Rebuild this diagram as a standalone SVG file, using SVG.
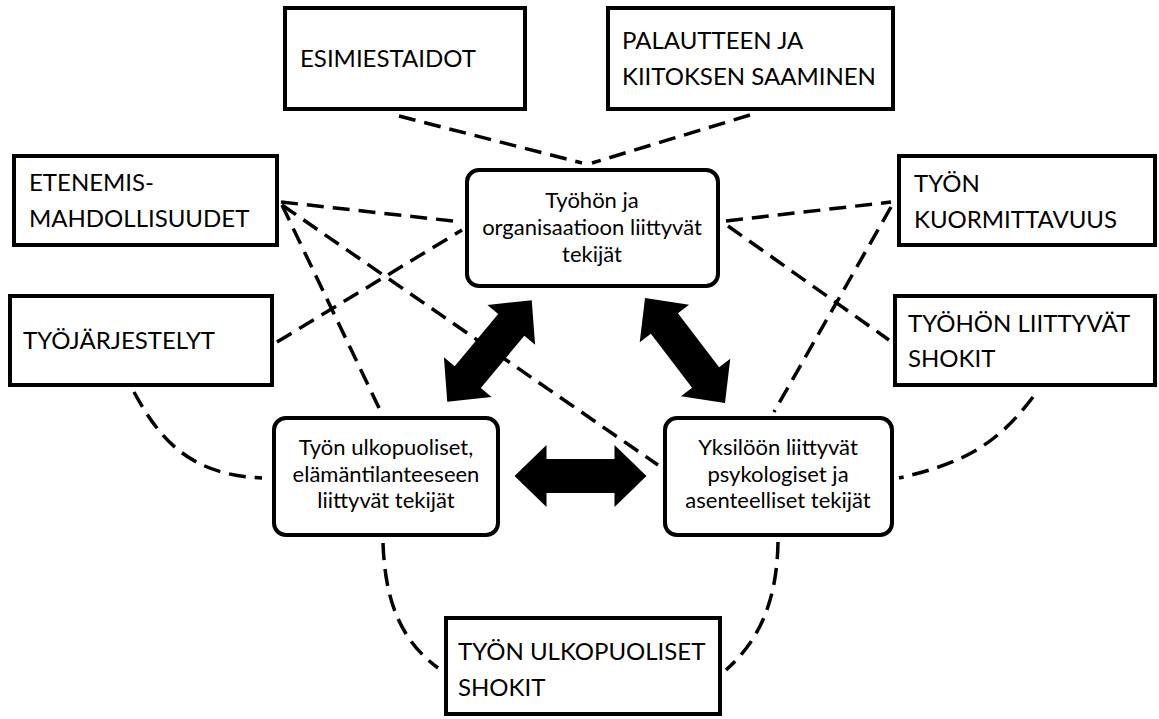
<svg xmlns="http://www.w3.org/2000/svg" width="1159" height="719" viewBox="0 0 1159 719">
<style>
.box{fill:#fff;stroke:#000;stroke-width:4}
.rbox{fill:#fff;stroke:#000;stroke-width:4}
.lbl{font-family:Lato,"Open Sans","Liberation Sans",sans-serif;font-size:24px;fill:#000}
.ctr{font-family:Lato,"Open Sans","Liberation Sans",sans-serif;font-size:22px;fill:#000;text-anchor:middle}
.dash{fill:none;stroke:#000;stroke-width:3.5;stroke-dasharray:17 9}
.arr{fill:#000}
</style>
<defs>
<polygon id="dbl" points="-66,0 -34,-31 -34,-17 34,-17 34,-31 66,0 34,31 34,17 -34,17 -34,31"/>
</defs>
<rect width="1159" height="719" fill="#fff"/>
<g id="connectors">
<line class="dash" x1="399" y1="116" x2="582" y2="163"/>
<line class="dash" x1="750" y1="115" x2="592" y2="163"/>
<line class="dash" x1="281" y1="202" x2="462" y2="222"/>
<line class="dash" x1="277" y1="342" x2="462" y2="230"/>
<line class="dash" x1="282" y1="205" x2="380" y2="410"/>
<line class="dash" x1="282" y1="205" x2="658" y2="465"/>
<line class="dash" x1="726" y1="221" x2="891" y2="202"/>
<line class="dash" x1="728" y1="226" x2="889" y2="340"/>
<line class="dash" x1="891" y1="207" x2="774" y2="412"/>
<path class="dash" d="M134,392 C160,440 190,475 262,478"/>
<path class="dash" d="M1033,397 C1000,440 970,462 899,478"/>
<path class="dash" d="M383,543 C385,600 400,640 438,668"/>
<path class="dash" d="M778,542 C777,600 760,640 726,670"/>
<use class="arr" href="#dbl" transform="translate(489.5,351) rotate(-50.2)"/>
<use class="arr" href="#dbl" transform="translate(685,350.5) rotate(52.7)"/>
<use class="arr" href="#dbl" transform="translate(580.5,476)"/>
</g>
<g id="n-esimiestaidot">
<rect class="box" x="285" y="8" width="240" height="101"/>
<text class="lbl" x="300" y="67">ESIMIESTAIDOT</text>
</g>
<g id="n-palaute">
<rect class="box" x="608" y="8" width="285" height="101"/>
<text class="lbl" x="622" y="49">PALAUTTEEN JA</text>
<text class="lbl" x="622" y="85">KIITOKSEN SAAMINEN</text>
</g>
<g id="n-etenemis">
<rect class="box" x="14" y="156" width="263" height="89"/>
<text class="lbl" x="29" y="191">ETENEMIS-</text>
<text class="lbl" x="29" y="227">MAHDOLLISUUDET</text>
</g>
<g id="n-tyojarjestelyt">
<rect class="box" x="10" y="296" width="262" height="89"/>
<text class="lbl" x="23" y="349">TYÖJÄRJESTELYT</text>
</g>
<g id="n-kuormittavuus">
<rect class="box" x="899" y="156" width="256" height="89"/>
<text class="lbl" x="914" y="192">TYÖN</text>
<text class="lbl" x="914" y="228">KUORMITTAVUUS</text>
</g>
<g id="n-tyohon-shokit">
<rect class="box" x="895" y="296" width="260" height="89"/>
<text class="lbl" x="908" y="332">TYÖHÖN LIITTYVÄT</text>
<text class="lbl" x="908" y="367">SHOKIT</text>
</g>
<g id="n-ulkop-shokit">
<rect class="box" x="446" y="618" width="274" height="96"/>
<text class="lbl" x="458" y="660">TYÖN ULKOPUOLISET</text>
<text class="lbl" x="458" y="696">SHOKIT</text>
</g>
<g id="n-organisaatio">
<rect class="rbox" x="467" y="170" width="251" height="116" rx="12"/>
<text class="ctr" x="592" y="208">Työhön ja</text>
<text class="ctr" x="592" y="235">organisaatioon liittyvät</text>
<text class="ctr" x="592" y="262">tekijät</text>
</g>
<g id="n-elamantilanne">
<rect class="rbox" x="274" y="418" width="224" height="117" rx="12"/>
<text class="ctr" x="386" y="455">Työn ulkopuoliset,</text>
<text class="ctr" x="386" y="482">elämäntilanteeseen</text>
<text class="ctr" x="386" y="508">liittyvät tekijät</text>
</g>
<g id="n-yksilo">
<rect class="rbox" x="665" y="418" width="227" height="117" rx="12"/>
<text class="ctr" x="778" y="455">Yksilöön liittyvät</text>
<text class="ctr" x="778" y="482">psykologiset ja</text>
<text class="ctr" x="778" y="508">asenteelliset tekijät</text>
</g>
</svg>
